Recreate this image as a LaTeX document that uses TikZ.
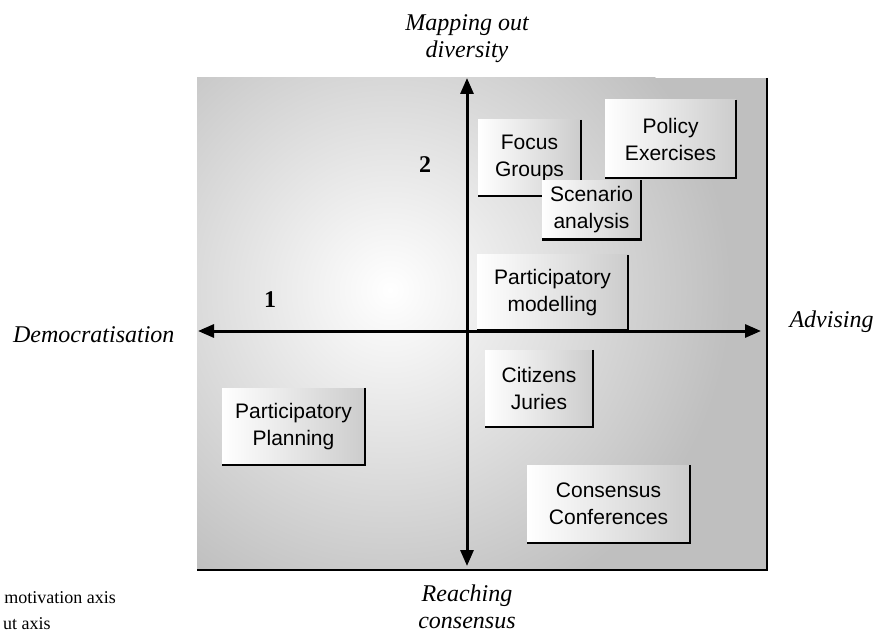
\documentclass[tikz,border=0pt]{standalone}
\usepackage{fontspec}
\setmainfont{Liberation Serif}
\setsansfont{Liberation Sans}
\usetikzlibrary{arrows.meta}

\begin{document}
\begin{tikzpicture}[x=1pt, y=-1pt]

  \tikzset{BoxStyle/.style = {
  shape = rectangle,
  left color = white,
  right color = gray!40,
  inner sep = 0pt,
  align = center,
  font = \sffamily\fontsize{21}{27}\selectfont}}
  \tikzset{EdgeStyle/.style = {
  draw = black,
  line width = 2.5pt}}
  \tikzset{AxisStyle/.style = {
  draw = black,
  line width = 3pt,
  {Triangle[length=16pt, width=13pt]}-{Triangle[length=16pt, width=13pt]}}}
  \tikzset{PoleStyle/.style = {
  align = center,
  font = \itshape\fontsize{24}{27}\selectfont}}

  \useasboundingbox (0,0) rectangle (875,636);

  % background panel
  \fill[gray!50] (197,78) rectangle (767,570);
  \begin{scope}
    \clip (197,78) rectangle (767,570);
    \shade[inner color=white, outer color=gray!50] (390,290) circle (340);
  \end{scope}
  \draw[EdgeStyle] (767,78) -- (767,570) -- (197,570);

  % methods
  \node[BoxStyle, minimum width=103, minimum height=76] (FG) at (529.5,158) {Focus\\Groups};
  \node[BoxStyle, minimum width=131, minimum height=78] (PE) at (670.5,139) {Policy\\Exercises};
  \draw[EdgeStyle] (FG.north east) -- (FG.south east) -- (FG.south west);
  \draw[EdgeStyle] (PE.north east) -- (PE.south east) -- (PE.south west);
  \node[BoxStyle, minimum width=99, minimum height=59] (SA) at (591.5,210) {Scenario\\analysis};
  \node[BoxStyle, minimum width=151, minimum height=75] (PM) at (552.5,292.5) {Participatory\\modelling};
  \node[BoxStyle, minimum width=108, minimum height=77] (CJ) at (539,388.5) {Citizens\\Juries};
  \node[BoxStyle, minimum width=163, minimum height=78] (CC) at (608.5,504) {Consensus\\Conferences};
  \node[BoxStyle, minimum width=143, minimum height=77] (PP) at (293.5,426.5) {Participatory\\Planning};
  \foreach \b in {SA, PM, CJ, CC, PP}
    \draw[EdgeStyle] (\b.north east) -- (\b.south east) -- (\b.south west);

  % axes
  \coordinate (N) at (467,78);
  \coordinate (S) at (467,566);
  \coordinate (W) at (198,331);
  \coordinate (E) at (761,331);
  \draw[AxisStyle] (S) -- (N);
  \draw[AxisStyle] (W) -- (E);

  \node[PoleStyle] (Div) at (467,39) {Mapping out\\diversity};
  \node[PoleStyle] (Con) at (467,607) {Reaching\\consensus};
  \node[PoleStyle, anchor=east] (Dem) at (178,335) {Democratisation};
  \node[PoleStyle, anchor=west] (Adv) at (786,322) {Advising};

  \node[font=\bfseries\fontsize{24}{27}\selectfont] (Q2) at (425,165) {2};
  \node[font=\bfseries\fontsize{24}{27}\selectfont] (Q1) at (270,300) {1};

  % legend lines at the lower left
  \node[anchor=east, font=\fontsize{18}{22}\selectfont, inner sep=0pt] (L1) at (116,598) {motivation axis};
  \node[anchor=west, font=\fontsize{18}{22}\selectfont, inner sep=0pt] (L2) at (3,624) {ut axis};

\end{tikzpicture}
\end{document}
